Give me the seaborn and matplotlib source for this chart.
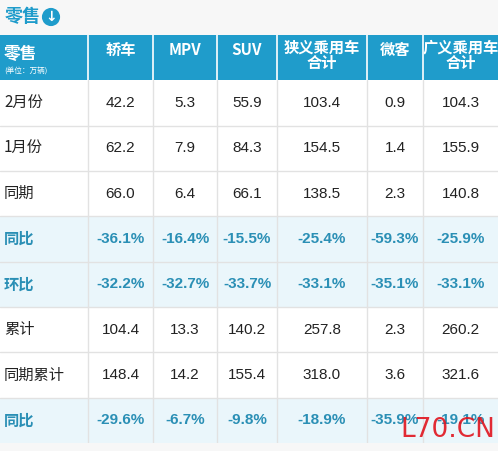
import numpy as np
import pandas as pd
import seaborn as sns
import matplotlib
matplotlib.use("Agg")
import matplotlib.pyplot as plt
from matplotlib.colors import ListedColormap

sns.set_theme(style="white")
plt.rcParams['font.family'] = ['Noto Sans CJK SC', 'DejaVu Sans']

title = "零售"
columns = ["轿车", "MPV", "SUV", "狭义乘用车\n合计", "微客", "广义乘用车\n合计"]
row_labels = ["2月份", "1月份", "同期", "同比", "环比", "累计", "同期累计", "同比"]
sedan = ["42.2", "62.2", "66.0", "-36.1%", "-32.2%", "104.4", "148.4", "-29.6%"]
mpv = ["5.3", "7.9", "6.4", "-16.4%", "-32.7%", "13.3", "14.2", "-6.7%"]
suv = ["55.9", "84.3", "66.1", "-15.5%", "-33.7%", "140.2", "155.4", "-9.8%"]
narrow = ["103.4", "154.5", "138.5", "-25.4%", "-33.1%", "257.8", "318.0", "-18.9%"]
micro = ["0.9", "1.4", "2.3", "-59.3%", "-35.1%", "2.3", "3.6", "-35.9%"]
broad = ["104.3", "155.9", "140.8", "-25.9%", "-33.1%", "260.2", "321.6", "-19.1%"]
pct_rows = [3, 4, 7]

col_w = [88, 65, 64, 60, 90, 56, 75]  # pixel widths of columns
edges = np.concatenate([[0], np.cumsum(col_w)])
W = int(edges[-1])

kinds = [2] + [1 if i in pct_rows else 0 for i in range(len(row_labels))]
grid = np.repeat(np.array(kinds)[:, None], W, axis=1)
df = pd.DataFrame(grid)

fig = plt.figure(figsize=(4.98, 4.51), dpi=100)
fig.patch.set_facecolor("#f7f7f7")
ax = fig.add_axes([0, 8 / 451, 1, 408 / 451])
cmap = ListedColormap(["#ffffff", "#eaf6fb", "#1f9ccb"])
sns.heatmap(df, cmap=cmap, vmin=-0.5, vmax=2.5, cbar=False, ax=ax,
            xticklabels=False, yticklabels=False)

nrows = len(kinds)
for e in edges[1:-1]:
    ax.plot([e, e], [0, 1], color="white", lw=1.2)
    ax.plot([e, e], [1, nrows], color="#e2e2e2", lw=1)
for r in range(2, nrows):
    ax.plot([0, W], [r, r], color="#e2e2e2", lw=1)

centers = (edges[:-1] + edges[1:]) / 2
num_font = ['Liberation Sans', 'Noto Sans CJK SC']
ax.text(4, 0.42, "零售", color="white", fontsize=12, fontweight="bold", va="center", ha="left")
ax.text(4, 0.78, "(单位：万辆)", color="white", fontsize=5.5, va="center", ha="left")
for j, c in enumerate(columns):
    two = "\n" in c
    ax.text(centers[j + 1], 0.45 if two else 0.33, c, color="white", fontsize=11,
            fontweight="bold", ha="center", va="center", linespacing=1.0)

cols = [sedan, mpv, suv, narrow, micro, broad]
for i, lab in enumerate(row_labels):
    y = i + 1.5
    pct = i in pct_rows
    ax.text(4, y, lab, fontsize=11, ha="left", va="center",
            color="#2a8fb5" if pct else "#222222", fontweight="bold" if pct else "normal")
    for j, col in enumerate(cols):
        ax.text(centers[j + 1], y, col[i], fontsize=11, ha="center", va="center",
                family=num_font,
                color="#2a8fb5" if pct else "#222222", fontweight="bold" if pct else "normal")

fig.text(5 / 498, 1 - 17 / 451, title, color="#1f9ccb", fontsize=13, fontweight="bold", va="center")
fig.text(51 / 498, 1 - 17 / 451, "↓", color="white", fontsize=10, fontweight="bold",
         va="center", ha="center", family="DejaVu Sans",
         bbox=dict(boxstyle="circle,pad=0.15", fc="#1f9ccb", ec="none"))
fig.text(400 / 498, 1 - 430 / 451, "L70.CN", color="#e0141e", fontsize=19, va="center", ha="left",
         family="DejaVu Sans", alpha=0.9)

fig.savefig("out.png", dpi=100, facecolor=fig.get_facecolor())
